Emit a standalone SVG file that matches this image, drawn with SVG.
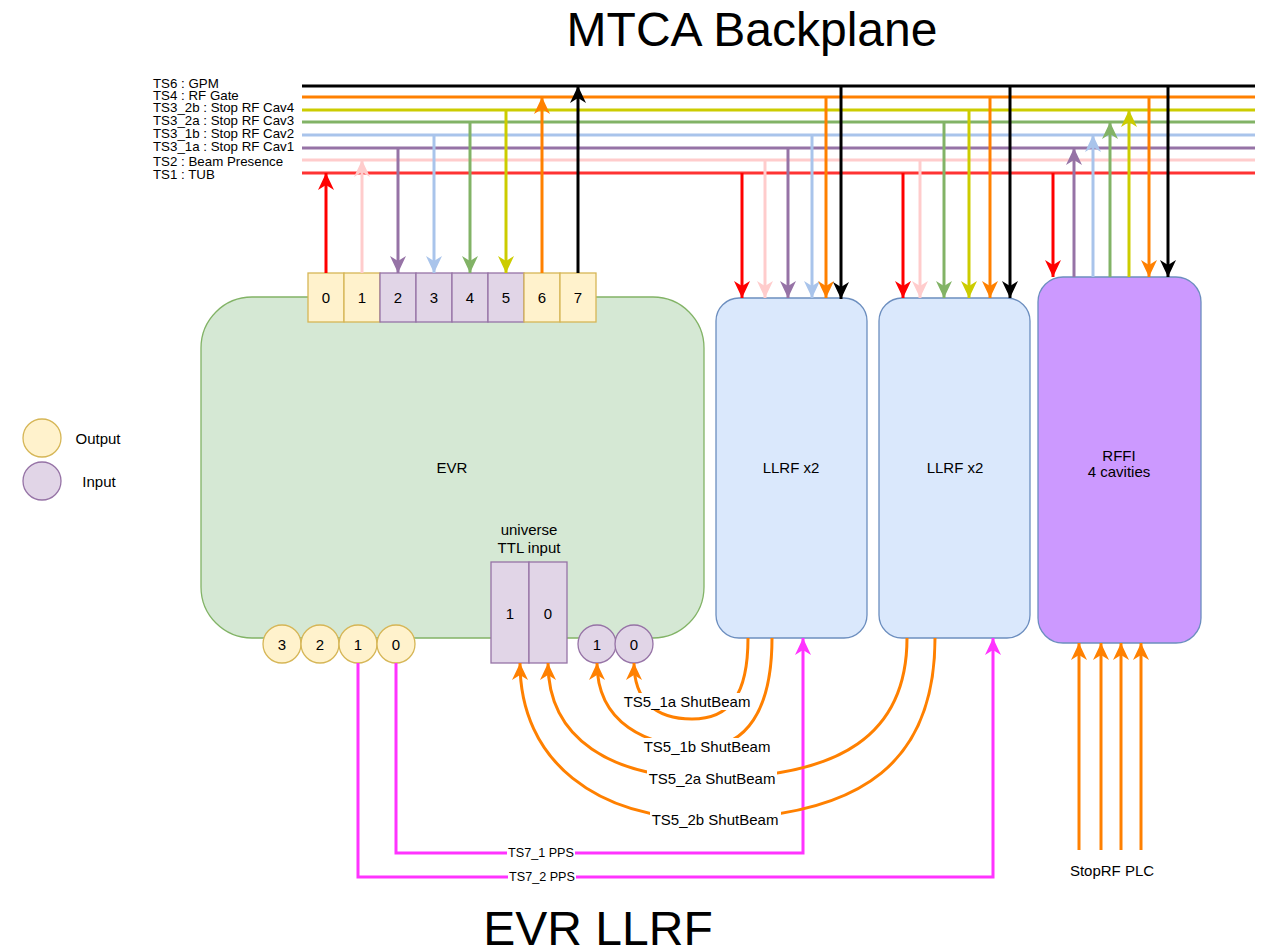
<svg xmlns="http://www.w3.org/2000/svg" width="1273" height="950" viewBox="0 0 1273 950">
<style>
text{font-family:"Liberation Sans",Arial,sans-serif;fill:#000}
.c{text-anchor:middle;dominant-baseline:central}
.l15{font-size:15px}
.bus{font-size:13.3px}
.pps{font-size:12.6px}
.out{fill:#fff2cc;stroke:#d6b656;stroke-width:1.3}
.in{fill:#e1d5e7;stroke:#9673a6;stroke-width:1.3}
.w{stroke-width:3;fill:none}
.bg{fill:#fff}
</style>
<defs>
<marker id="a-red" markerUnits="userSpaceOnUse" markerWidth="18" markerHeight="18" viewBox="0 -9 18 18" refX="17" refY="0" orient="auto"><path d="M0,-8 L17,0 L0,8 L5,0 Z" fill="#ff0000"/></marker>
<marker id="a-pink" markerUnits="userSpaceOnUse" markerWidth="18" markerHeight="18" viewBox="0 -9 18 18" refX="17" refY="0" orient="auto"><path d="M0,-8 L17,0 L0,8 L5,0 Z" fill="#ffcccc"/></marker>
<marker id="a-purple" markerUnits="userSpaceOnUse" markerWidth="18" markerHeight="18" viewBox="0 -9 18 18" refX="17" refY="0" orient="auto"><path d="M0,-8 L17,0 L0,8 L5,0 Z" fill="#9673a6"/></marker>
<marker id="a-blue" markerUnits="userSpaceOnUse" markerWidth="18" markerHeight="18" viewBox="0 -9 18 18" refX="17" refY="0" orient="auto"><path d="M0,-8 L17,0 L0,8 L5,0 Z" fill="#a9c4eb"/></marker>
<marker id="a-green" markerUnits="userSpaceOnUse" markerWidth="18" markerHeight="18" viewBox="0 -9 18 18" refX="17" refY="0" orient="auto"><path d="M0,-8 L17,0 L0,8 L5,0 Z" fill="#82b366"/></marker>
<marker id="a-yellow" markerUnits="userSpaceOnUse" markerWidth="18" markerHeight="18" viewBox="0 -9 18 18" refX="17" refY="0" orient="auto"><path d="M0,-8 L17,0 L0,8 L5,0 Z" fill="#cccc00"/></marker>
<marker id="a-orange" markerUnits="userSpaceOnUse" markerWidth="18" markerHeight="18" viewBox="0 -9 18 18" refX="17" refY="0" orient="auto"><path d="M0,-8 L17,0 L0,8 L5,0 Z" fill="#ff8000"/></marker>
<marker id="a-black" markerUnits="userSpaceOnUse" markerWidth="18" markerHeight="18" viewBox="0 -9 18 18" refX="17" refY="0" orient="auto"><path d="M0,-8 L17,0 L0,8 L5,0 Z" fill="#000000"/></marker>
<marker id="a-mag" markerUnits="userSpaceOnUse" markerWidth="18" markerHeight="18" viewBox="0 -9 18 18" refX="17" refY="0" orient="auto"><path d="M0,-8 L17,0 L0,8 L5,0 Z" fill="#ff33ff"/></marker>
</defs>
<rect x="0" y="0" width="1273" height="950" fill="#ffffff"/>

<g id="title-mtca"><text x="752" y="46" class="c" style="font-size:48px;dominant-baseline:auto">MTCA Backplane</text></g>
<g id="title-evrllrf"><text x="598" y="945" class="c" style="font-size:48px;dominant-baseline:auto">EVR LLRF</text></g>

<g id="bus-labels" class="bus">
<text x="153" y="88">TS6 : GPM</text>
<text x="153" y="99.5">TS4 : RF Gate</text>
<text x="153" y="112">TS3_2b : Stop RF Cav4</text>
<text x="153" y="124.5">TS3_2a : Stop RF Cav3</text>
<text x="153" y="137.5">TS3_1b : Stop RF Cav2</text>
<text x="153" y="151">TS3_1a : Stop RF Cav1</text>
<text x="153" y="165.5">TS2 : Beam Presence</text>
<text x="153" y="178.5">TS1 : TUB</text>
</g>

<g id="evr">
<rect x="201" y="297" width="503" height="341" rx="51" ry="51" fill="#d5e8d4" stroke="#82b366" stroke-width="1.3"/>
<text x="452" y="467" class="c l15">EVR</text>
</g>
<g id="llrf1">
<rect x="716" y="298" width="151" height="340" rx="23" ry="23" fill="#dae8fc" stroke="#6c8ebf" stroke-width="1.3"/>
<text x="791" y="467" class="c l15">LLRF x2</text>
</g>
<g id="llrf2">
<rect x="879" y="298" width="151" height="340" rx="23" ry="23" fill="#dae8fc" stroke="#6c8ebf" stroke-width="1.3"/>
<text x="955" y="467" class="c l15">LLRF x2</text>
</g>
<g id="rffi">
<rect x="1038" y="277" width="163" height="366" rx="25" ry="25" fill="#cc99ff" stroke="#6c8ebf" stroke-width="1.3"/>
<text x="1119" y="455" class="c l15">RFFI</text>
<text x="1119" y="471" class="c l15">4 cavities</text>
</g>

<g id="evr-ports">
<g id="port0"><rect x="308" y="273" width="36" height="49" class="out"/><text x="326" y="297.5" class="c l15">0</text></g>
<g id="port1"><rect x="344" y="273" width="36" height="49" class="out"/><text x="362" y="297.5" class="c l15">1</text></g>
<g id="port2"><rect x="380" y="273" width="36" height="49" class="in"/><text x="398" y="297.5" class="c l15">2</text></g>
<g id="port3"><rect x="416" y="273" width="36" height="49" class="in"/><text x="434" y="297.5" class="c l15">3</text></g>
<g id="port4"><rect x="452" y="273" width="36" height="49" class="in"/><text x="470" y="297.5" class="c l15">4</text></g>
<g id="port5"><rect x="488" y="273" width="36" height="49" class="in"/><text x="506" y="297.5" class="c l15">5</text></g>
<g id="port6"><rect x="524" y="273" width="36" height="49" class="out"/><text x="542" y="297.5" class="c l15">6</text></g>
<g id="port7"><rect x="560" y="273" width="36" height="49" class="out"/><text x="578" y="297.5" class="c l15">7</text></g>
</g>

<g id="evr-out-circles">
<g id="out3"><circle cx="282" cy="644" r="19" class="out"/><text x="282" y="644" class="c l15">3</text></g>
<g id="out2"><circle cx="320" cy="644" r="19" class="out"/><text x="320" y="644" class="c l15">2</text></g>
<g id="out1"><circle cx="358" cy="644" r="19" class="out"/><text x="358" y="644" class="c l15">1</text></g>
<g id="out0"><circle cx="396" cy="644" r="19" class="out"/><text x="396" y="644" class="c l15">0</text></g>
</g>
<g id="evr-in-circles">
<g id="in1"><circle cx="597" cy="644" r="19" class="in"/><text x="597" y="644" class="c l15">1</text></g>
<g id="in0"><circle cx="634" cy="644" r="19" class="in"/><text x="634" y="644" class="c l15">0</text></g>
</g>
<g id="ttl-input">
<text x="529" y="529" class="c l15">universe</text>
<text x="529" y="547" class="c l15">TTL input</text>
<g id="ttl1"><rect x="491" y="562" width="38" height="101" class="in"/><text x="510" y="613" class="c l15">1</text></g>
<g id="ttl0"><rect x="529" y="562" width="38" height="101" class="in"/><text x="548" y="613" class="c l15">0</text></g>
</g>

<g id="legend">
<g id="legend-output"><circle cx="42" cy="438" r="19" class="out"/><text x="98" y="438" class="c l15">Output</text></g>
<g id="legend-input"><circle cx="42" cy="481" r="19" class="in"/><text x="99" y="481" class="c l15">Input</text></g>
</g>

<g id="connectors" class="w">
<!-- bus lines -->
<line x1="302" y1="86" x2="1255" y2="86" stroke="#000000"/>
<line x1="302" y1="97" x2="1255" y2="97" stroke="#ff8000"/>
<line x1="302" y1="110" x2="1255" y2="110" stroke="#cccc00"/>
<line x1="302" y1="122" x2="1255" y2="122" stroke="#82b366"/>
<line x1="302" y1="135" x2="1255" y2="135" stroke="#a9c4eb"/>
<line x1="302" y1="148" x2="1255" y2="148" stroke="#9673a6"/>
<line x1="302" y1="160" x2="1255" y2="160" stroke="#ffcccc"/>
<line x1="302" y1="173" x2="1255" y2="173" stroke="#ff3333"/>

<!-- EVR ports -->
<line x1="326" y1="273" x2="326" y2="173" stroke="#ff0000" marker-end="url(#a-red)"/>
<line x1="362" y1="273" x2="362" y2="160" stroke="#ffcccc" marker-end="url(#a-pink)"/>
<line x1="398" y1="148" x2="398" y2="273" stroke="#9673a6" marker-end="url(#a-purple)"/>
<line x1="434" y1="135" x2="434" y2="273" stroke="#a9c4eb" marker-end="url(#a-blue)"/>
<line x1="470" y1="122" x2="470" y2="273" stroke="#82b366" marker-end="url(#a-green)"/>
<line x1="506" y1="110" x2="506" y2="273" stroke="#cccc00" marker-end="url(#a-yellow)"/>
<line x1="542" y1="273" x2="542" y2="97" stroke="#ff8000" marker-end="url(#a-orange)"/>
<line x1="578" y1="273" x2="578" y2="86" stroke="#000000" marker-end="url(#a-black)"/>

<!-- LLRF1 -->
<line x1="742" y1="173" x2="742" y2="298" stroke="#ff0000" marker-end="url(#a-red)"/>
<line x1="765" y1="160" x2="765" y2="298" stroke="#ffcccc" marker-end="url(#a-pink)"/>
<line x1="788" y1="148" x2="788" y2="298" stroke="#9673a6" marker-end="url(#a-purple)"/>
<line x1="812" y1="135" x2="812" y2="298" stroke="#a9c4eb" marker-end="url(#a-blue)"/>
<line x1="826" y1="97" x2="826" y2="298" stroke="#ff8000" marker-end="url(#a-orange)"/>
<line x1="841" y1="86" x2="841" y2="299" stroke="#000000" marker-end="url(#a-black)"/>

<!-- LLRF2 -->
<line x1="903" y1="173" x2="903" y2="298" stroke="#ff0000" marker-end="url(#a-red)"/>
<line x1="920" y1="160" x2="920" y2="298" stroke="#ffcccc" marker-end="url(#a-pink)"/>
<line x1="944" y1="122" x2="944" y2="298" stroke="#82b366" marker-end="url(#a-green)"/>
<line x1="969" y1="110" x2="969" y2="298" stroke="#cccc00" marker-end="url(#a-yellow)"/>
<line x1="990" y1="97" x2="990" y2="298" stroke="#ff8000" marker-end="url(#a-orange)"/>
<line x1="1010" y1="86" x2="1010" y2="298" stroke="#000000" marker-end="url(#a-black)"/>

<!-- RFFI -->
<line x1="1053" y1="173" x2="1053" y2="277" stroke="#ff0000" marker-end="url(#a-red)"/>
<line x1="1074" y1="277" x2="1074" y2="148" stroke="#9673a6" marker-end="url(#a-purple)"/>
<line x1="1093" y1="277" x2="1093" y2="135" stroke="#a9c4eb" marker-end="url(#a-blue)"/>
<line x1="1110" y1="277" x2="1110" y2="122" stroke="#82b366" marker-end="url(#a-green)"/>
<line x1="1129" y1="277" x2="1129" y2="110" stroke="#cccc00" marker-end="url(#a-yellow)"/>
<line x1="1149" y1="97" x2="1149" y2="277" stroke="#ff8000" marker-end="url(#a-orange)"/>
<line x1="1168" y1="86" x2="1168" y2="277" stroke="#000000" marker-end="url(#a-black)"/>

<!-- StopRF PLC -->
<line x1="1079" y1="850" x2="1079" y2="643" stroke="#ff8000" marker-end="url(#a-orange)"/>
<line x1="1101" y1="850" x2="1101" y2="643" stroke="#ff8000" marker-end="url(#a-orange)"/>
<line x1="1121" y1="850" x2="1121" y2="643" stroke="#ff8000" marker-end="url(#a-orange)"/>
<line x1="1141" y1="850" x2="1141" y2="643" stroke="#ff8000" marker-end="url(#a-orange)"/>

<!-- PPS -->
<polyline points="396,663 396,853 803,853 803,638" stroke="#ff33ff" marker-end="url(#a-mag)"/>
<polyline points="358,663 358,877 993,877 993,638" stroke="#ff33ff" marker-end="url(#a-mag)"/>

<!-- ShutBeam curves -->
<path d="M748,638 C748,695 730,719 692,719 C655,719 634,700 634,663" stroke="#ff8000" marker-end="url(#a-orange)"/>
<path d="M772,638 C772,712 745,746 705,747 C645,748 597,722 597,663" stroke="#ff8000" marker-end="url(#a-orange)"/>
<path d="M907,638 C907,735 840,777 712,778 C610,779 548,738 548,663" stroke="#ff8000" marker-end="url(#a-orange)"/>
<path d="M935,638 C935,760 865,816 715,819 C595,821 520,760 520,663" stroke="#ff8000" marker-end="url(#a-orange)"/>
</g>

<g id="connector-labels">
<rect x="623" y="693" width="129" height="17" class="bg"/>
<text x="687" y="701" class="c l15">TS5_1a ShutBeam</text>
<rect x="643" y="738" width="128" height="17" class="bg"/>
<text x="707" y="746" class="c l15">TS5_1b ShutBeam</text>
<rect x="647" y="770" width="130" height="17" class="bg"/>
<text x="712" y="778" class="c l15">TS5_2a ShutBeam</text>
<rect x="650" y="811" width="131" height="17" class="bg"/>
<text x="715" y="819" class="c l15">TS5_2b ShutBeam</text>
<rect x="507" y="846" width="68" height="14" class="bg"/>
<text x="541" y="853" class="c pps">TS7_1 PPS</text>
<rect x="508" y="870" width="68" height="14" class="bg"/>
<text x="542" y="877" class="c pps">TS7_2 PPS</text>
<text x="1112" y="870" class="c l15">StopRF PLC</text>
</g>
</svg>
